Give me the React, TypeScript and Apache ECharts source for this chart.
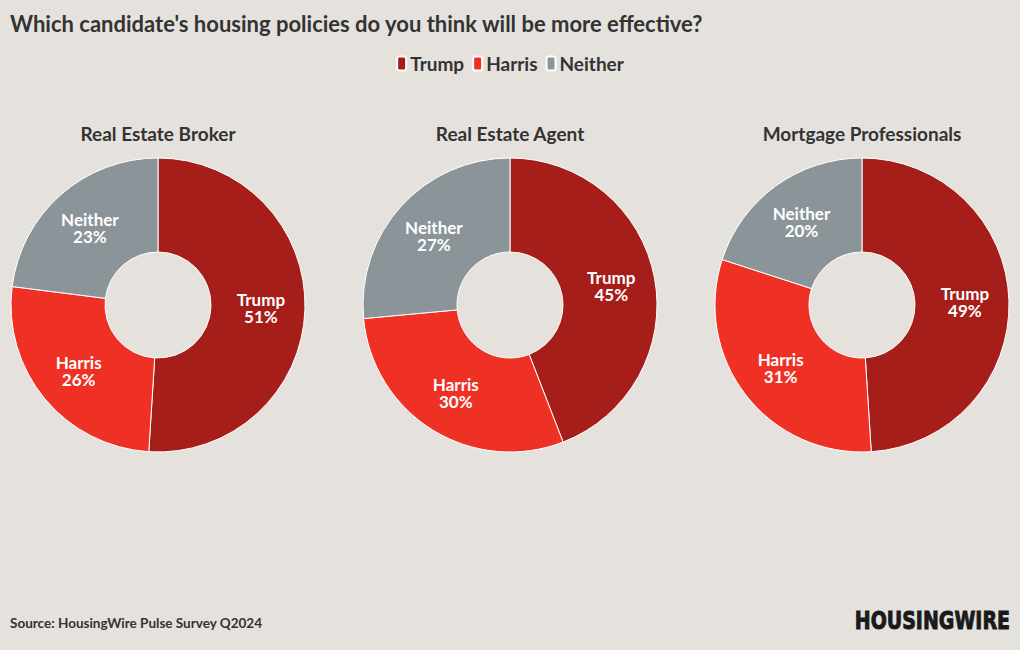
import React, { useEffect, useRef } from "react";
import * as echarts from "echarts";

const candidates = ["Trump", "Harris", "Neither"];
const groups = ["Real Estate Broker", "Real Estate Agent", "Mortgage Professionals"];
const brokerValues = [51, 26, 23];
const agentValues = [45, 30, 27];
const mortgageValues = [49, 31, 20];
const colors = ["#a61e1a", "#ee3124", "#8a9499"];

const FONT = "Lato";

export default function App() {
  const ref = useRef<HTMLDivElement>(null);
  useEffect(() => {
    if (!ref.current) return;
    const chart = echarts.init(ref.current, null, { renderer: "svg" });
    const allValues = [brokerValues, agentValues, mortgageValues];
    const centersX = [158, 510, 862];
    const series = allValues.map((vals, gi) => ({
      type: "pie",
      name: groups[gi],
      center: [centersX[gi], 305],
      radius: [53, 147],
      startAngle: 90,
      clockwise: true,
      label: {
        show: true,
        position: "inside",
        formatter: "{b}\n{c}%",
        color: "#ffffff",
        fontFamily: FONT,
        fontWeight: "bold",
        fontSize: 17,
        lineHeight: 17,
      },
      labelLine: { show: false },
      itemStyle: { borderColor: "#ffffff", borderWidth: 1 },
      emphasis: { disabled: true },
      data: candidates.map((c, i) => ({
        name: c,
        value: vals[i],
        itemStyle: { color: colors[i] },
      })),
    }));
    chart.setOption({
      animation: false,
      backgroundColor: "#e5e1dc",
      title: [
        {
          text: "Which candidate's housing policies do you think will be more effective?",
          left: 10,
          top: 12,
          padding: 0,
          textStyle: { fontFamily: FONT, fontWeight: "bold", fontSize: 22, color: "#333333" },
        },
        ...groups.map((g, gi) => ({
          text: g,
          left: centersX[gi],
          top: 124,
          padding: 0,
          textAlign: "center",
          textStyle: { fontFamily: FONT, fontWeight: "bold", fontSize: 19, color: "#333333" },
        })),
        {
          text: "Source: HousingWire Pulse Survey Q2024",
          left: 10,
          top: 616,
          padding: 0,
          textStyle: { fontFamily: FONT, fontWeight: "bold", fontSize: 13.5, color: "#333333" },
        },
      ],
      legend: {
        data: candidates,
        top: 49,
        left: "center",
        icon: "roundRect",
        itemWidth: 9,
        itemHeight: 14,
        itemGap: 8,
        textStyle: { fontFamily: FONT, fontWeight: "bold", fontSize: 19, color: "#333333", padding: [0, 0, 0, -1] },
        selectedMode: false,
      },
      graphic: [
        {
          type: "text",
          x: 1010,
          y: 620,
          scaleX: 0.76,
          style: {
            text: "HOUSINGWIRE",
            align: "right",
            verticalAlign: "middle",
            fontFamily: "DejaVu Sans",
            fontWeight: "bold",
            fontSize: 25,
            fill: "#1a1a1a",
            stroke: "#1a1a1a",
            lineWidth: 1,
          },
        },
      ],
      series,
    });
    return () => chart.dispose();
  }, []);
  return (
    <div
      ref={ref}
      style={{ position: "fixed", left: 0, top: 0, width: 1020, height: 650 }}
    />
  );
}
